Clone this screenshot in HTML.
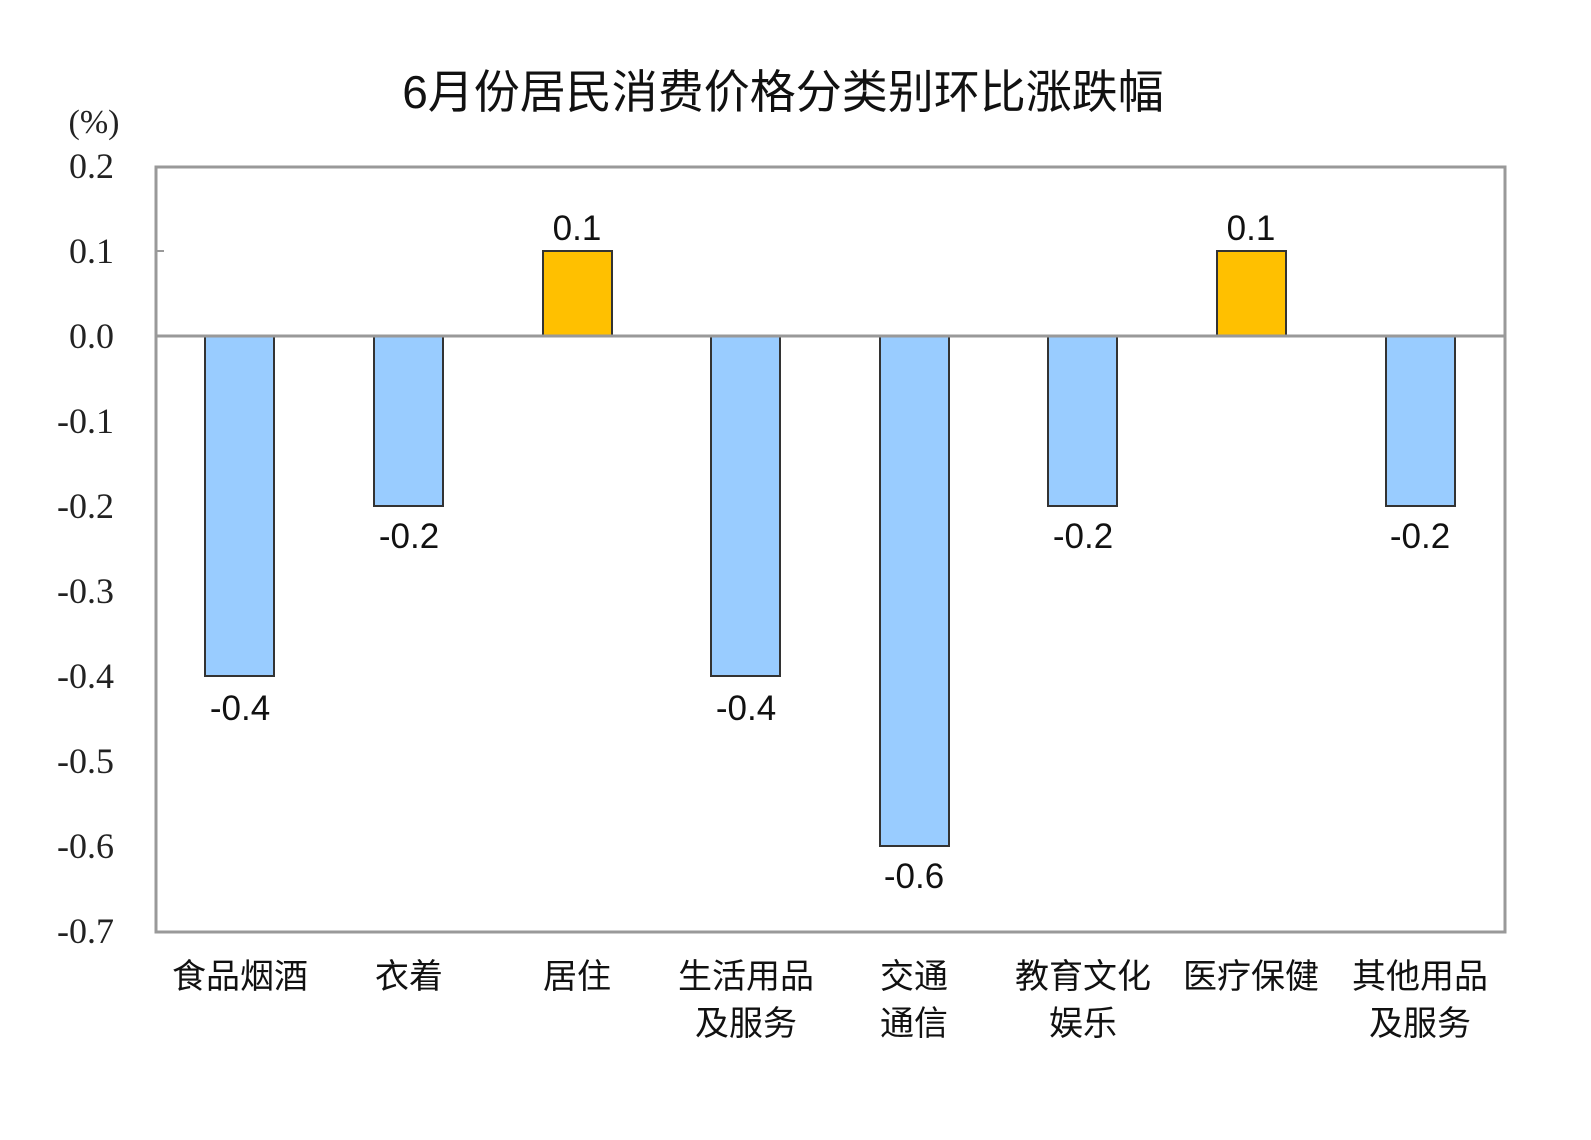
<!DOCTYPE html>
<html><head><meta charset="utf-8"><style>body{margin:0;background:#fff}</style></head><body>
<svg width="1591" height="1135" xmlns="http://www.w3.org/2000/svg">
<rect width="1591" height="1135" fill="#fff"/>
<text x="783" y="108" font-family="Liberation Sans, Noto Sans CJK SC, sans-serif" font-size="46" text-anchor="middle" fill="#111">6月份居民消费价格分类别环比涨跌幅</text>
<text x="94" y="133" font-family="Liberation Serif, serif" font-size="34" text-anchor="middle" fill="#222">(%)</text>
<g font-family="Liberation Serif, serif" font-size="36" fill="#222" text-anchor="end">
<text x="114" y="178">0.2</text><text x="114" y="263">0.1</text><text x="114" y="348">0.0</text>
<text x="114" y="433">-0.1</text><text x="114" y="518">-0.2</text><text x="114" y="603">-0.3</text>
<text x="114" y="688">-0.4</text><text x="114" y="773">-0.5</text><text x="114" y="858">-0.6</text><text x="114" y="943">-0.7</text>
</g>
<g stroke="#333" stroke-width="2">
<rect x="205" y="336" width="69" height="340" fill="#99CCFF"/>
<rect x="374" y="336" width="69" height="170" fill="#99CCFF"/>
<rect x="543" y="251" width="69" height="85" fill="#FFC000"/>
<rect x="711" y="336" width="69" height="340" fill="#99CCFF"/>
<rect x="880" y="336" width="69" height="510" fill="#99CCFF"/>
<rect x="1048" y="336" width="69" height="170" fill="#99CCFF"/>
<rect x="1217" y="251" width="69" height="85" fill="#FFC000"/>
<rect x="1386" y="336" width="69" height="170" fill="#99CCFF"/>
</g>
<line x1="156" y1="336" x2="1505" y2="336" stroke="#999" stroke-width="3"/>
<line x1="156" y1="251" x2="164" y2="251" stroke="#999" stroke-width="2"/>
<rect x="156" y="167" width="1349" height="765" fill="none" stroke="#999" stroke-width="3"/>
<g font-family="Liberation Sans, sans-serif" font-size="35" fill="#111" text-anchor="middle">
<text x="240" y="720">-0.4</text><text x="409" y="548">-0.2</text><text x="577" y="240">0.1</text>
<text x="746" y="720">-0.4</text><text x="914" y="888">-0.6</text><text x="1083" y="548">-0.2</text>
<text x="1251" y="240">0.1</text><text x="1420" y="548">-0.2</text>
</g>
<g font-family="Noto Sans CJK SC, sans-serif" font-size="34" fill="#111" text-anchor="middle">
<text x="240" y="988">食品烟酒</text><text x="409" y="988">衣着</text><text x="577" y="988">居住</text>
<text x="746" y="988">生活用品</text><text x="746" y="1035">及服务</text>
<text x="914" y="988">交通</text><text x="914" y="1035">通信</text>
<text x="1083" y="988">教育文化</text><text x="1083" y="1035">娱乐</text>
<text x="1251" y="988">医疗保健</text>
<text x="1420" y="988">其他用品</text><text x="1420" y="1035">及服务</text>
</g>
</svg>
</body></html>
